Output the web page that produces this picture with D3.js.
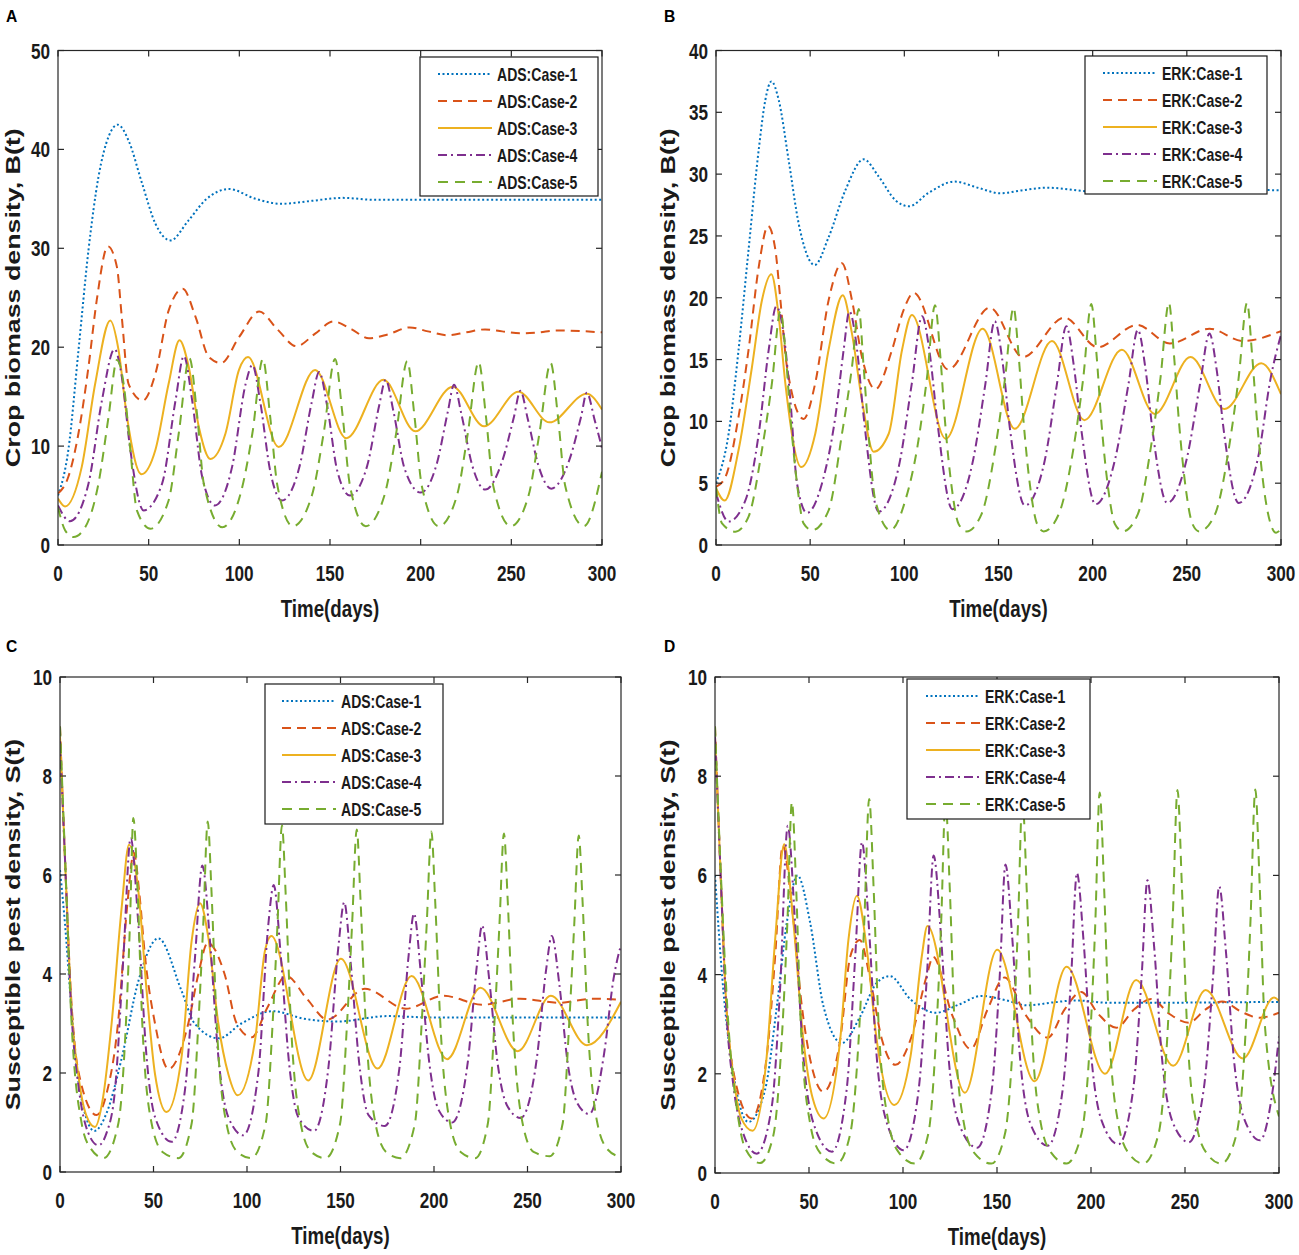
<!DOCTYPE html>
<html>
<head>
<meta charset="utf-8">
<title>Crop biomass and susceptible pest density</title>
<script src="https://d3js.org/d3.v7.min.js"></script>
<style>
  body { margin: 0; background: #fff; }
  text { font-family: "Liberation Sans", Arial, sans-serif; font-weight: bold; fill: #1a1a1a; }
  .tick-label { font-size: 22px; }
  .x-title { font-size: 24px; }
  .y-title { font-size: 26.8px; }
  .legend-text { font-size: 18px; }
  .panel-letter { font-size: 17px; fill: #000; }
</style>
</head>
<body>
<svg width="1299" height="1255"></svg>
<script>
// ---- data: [time (days), value] ----
var caseNames = ["Case-1", "Case-2", "Case-3", "Case-4", "Case-5"];
var xTicks = [0, 50, 100, 150, 200, 250, 300];
var yTicksA = [0, 10, 20, 30, 40, 50];
var yTicksB = [0, 5, 10, 15, 20, 25, 30, 35, 40];
var yTicksS = [0, 2, 4, 6, 8, 10];

// Panel A: ADS, crop biomass B(t)
var adsB1 = [[0,5],[5.7,9.6],[11.3,19.7],[16.8,29.8],[22.3,37.2],[27.9,41.3],[33,42.5],[38.9,40.9],[46.3,36.6],[53.7,32.5],[62,30.8],[71.9,32.8],[81.4,34.9],[94.3,36],[109,35],[123,34.5],[140,34.8],[157,35.1],[175,34.9],[200,34.9],[300,34.9]];
var adsB2 = [[0,5.2],[5.7,6.9],[11.3,11.3],[16.8,18],[21.4,24.8],[27.5,30.2],[32.5,28.1],[35.2,23],[38.9,16.3],[46.7,14.6],[53.7,17.3],[61,23.7],[68.8,25.9],[75.8,23.1],[83.2,19],[90,18.4],[99.8,21],[111,23.6],[121,21.8],[131.5,20.1],[142,21.4],[152,22.6],[162,21.8],[171.5,20.9],[182,21.3],[194,22],[204,21.6],[215,21.2],[225,21.5],[235.5,21.8],[245,21.6],[255,21.4],[265,21.5],[275,21.7],[300,21.5]];
var adsB3 = [[0,4.7],[3.9,3.9],[13.1,7.9],[20.5,16.3],[28.8,22.7],[33.4,19.7],[38,13],[46,7.15],[53.7,9.6],[61,16.3],[67,20.7],[72.1,18],[77.7,11.9],[84.1,8.7],[92.4,11.3],[99.8,17.7],[104.8,19],[121.7,9.9],[141.8,17.7],[159,10.8],[179.5,16.7],[197,11.5],[217.7,16],[235,12],[253.9,15.5],[271,12.4],[291.6,15.3],[300,13.7]];
var adsB4 = [[0,4.0],[6.6,2.4],[16.8,6.2],[24.2,14.6],[31.2,19.8],[35.2,17],[39.9,9.6],[47.2,3.5],[57.4,6.2],[64.8,14.6],[69.4,19.1],[74,14.6],[79.5,6.9],[86.5,4.0],[96,7.9],[103.5,16.3],[107.2,18.2],[111.5,14.5],[117,7.5],[123.5,4.5],[133,7.8],[140,14.5],[144,17.5],[148.5,14],[154,7.5],[161,5],[170.5,8],[177,14],[180.7,16.7],[185,13.5],[191,7.8],[200,5.3],[209,8.3],[215,13.5],[218.4,16.2],[222.5,13.2],[228.5,8],[235.6,5.6],[245,8.5],[251.5,13],[255,15.6],[259,12.8],[265,8],[272,5.7],[282,8.6],[288.5,13],[291.6,15.4],[296,12.6],[300,9.8]];
var adsB5 = [[0,3.8],[3.9,1.5],[8.5,0.8],[15,1.8],[22.3,6.2],[27.9,13],[32.5,18.7],[36.2,16.3],[39.9,9.6],[43.5,3.5],[51,1.65],[61,4.5],[66.6,11.3],[72.5,18.9],[76.8,13],[80.4,6.2],[90.6,1.8],[100.7,5.2],[107.2,11.3],[113,18.8],[117,13],[121,6],[129.5,1.9],[140,5],[146.5,11.3],[152.8,18.8],[157,13],[161,6],[169.7,1.9],[180,5],[186.5,11.3],[192.6,18.6],[196.6,13],[200.6,6],[210,1.9],[220,5],[226,11.3],[232,18.5],[236,13],[240,6],[249.7,1.9],[259.5,5],[265.5,11.3],[271.7,18.4],[275.7,13],[279.7,6],[290,1.9],[300,7.4]];

// Panel B: ERK, crop biomass B(t)
var erkB1 = [[0,5],[6.7,9],[12,15.8],[17.3,23.9],[22.7,32],[26.2,36],[29.4,37.5],[33.3,36],[38.6,31.1],[43.9,26],[52.4,22.65],[59.8,24.9],[68.7,28.7],[78.4,31.2],[86.4,29.8],[95.2,27.9],[102.4,27.4],[113,28.5],[126.6,29.4],[139,28.9],[151,28.45],[163,28.7],[176,28.9],[200,28.6],[230,28.75],[300,28.7]];
var erkB2 = [[0,4.7],[5,5.5],[12,10.4],[17.3,15.8],[22.7,22.5],[27.6,25.8],[31.5,23.9],[34.2,19.8],[37.7,14.4],[46.5,10.2],[52.7,13.1],[59.8,19.8],[66.9,22.8],[72.2,19.8],[77.5,15.2],[84.6,12.6],[93.5,15.8],[99.6,19],[105,20.4],[123.3,14.2],[145.4,19.2],[163,15.2],[185,18.4],[202.6,16],[223.6,17.8],[241,16.3],[262,17.5],[279.7,16.5],[300,17.3]];
var erkB3 = [[0,4.6],[4.6,3.6],[12,7.7],[19.1,14.4],[24.4,19.8],[29.4,21.9],[33.3,18.5],[36.8,13.1],[45.3,6.3],[52.7,9],[59.8,15.8],[67.3,20.2],[72.2,17.1],[77.5,11.7],[83.7,7.55],[91.7,9],[98.8,15.8],[104,18.6],[122,8.6],[141.6,17.5],[158.6,9.4],[178.4,16.5],[195.6,10.1],[215.5,15.8],[233,10.6],[252,15.2],[270,11],[289.5,14.7],[300,12.2]];
var erkB4 = [[0,4.2],[6.7,1.9],[15.6,3.6],[22.7,9],[28,15.8],[32,19.3],[35.9,17.1],[39.5,11.7],[43,5],[48.3,2.6],[56.3,5],[63.4,10.4],[67.8,15.8],[70.8,18.9],[74.9,15.8],[78.4,10.4],[86.4,2.7],[97,6.3],[104,13.1],[109.4,18.5],[113.5,15.5],[117.5,10],[125.5,2.9],[136,6.5],[143,13],[148,18.1],[152,15],[156,9.5],[164,3.2],[174.5,6.8],[181,13],[186,17.7],[190,14.5],[194,9.3],[201.5,3.3],[212,7],[219,13],[224,17.4],[228,14.3],[232,9],[239.6,3.4],[250,7],[257,13],[262,17.1],[266,14],[270,8.8],[277.5,3.4],[288,7.2],[294.5,13.5],[300,17]];
var erkB5 = [[0,4.7],[3.2,1.75],[10.3,1.08],[17.3,2.3],[24.4,7.7],[29.7,13.1],[34.2,18.9],[36.8,15.8],[39.5,10.4],[43,5],[46.5,1.75],[51,1.2],[59.8,2.8],[66.9,9],[72.2,14.4],[75.8,19.1],[78.4,14.4],[81,9],[84.6,3.6],[92.6,1.2],[100.5,3.6],[107,8],[112,13.5],[116.3,19.4],[119,15.5],[121.6,10],[125.3,4.5],[128.8,1.7],[133,1.1],[141,2.5],[148.5,8],[153.5,13.5],[158,19.2],[160.6,15.5],[163.3,10],[167,4.5],[170.5,1.7],[174,1.1],[182,2.5],[190,8],[195,13.5],[199.3,19.5],[202,15.5],[204.6,10],[208.3,4.5],[211.8,1.7],[216,1.1],[224,2.5],[231,8],[236,13.5],[240.5,19.6],[243.1,15.5],[245.8,10],[249.5,4.5],[253,1.7],[256.6,1.1],[265,2.5],[272.5,8],[277.5,13.5],[282,19.6],[284.6,15.5],[287.3,10],[291,4.5],[294.5,1.7],[297.4,1.0],[300,1.3]];

// Panel C: ADS, susceptible pest S(t)
var adsS1 = [[0,6.1],[2.7,5.0],[5.3,3.7],[10,1.8],[18.4,0.83],[25,1.2],[33,2.3],[42,3.87],[52.6,4.72],[65,3.66],[72,3.0],[85,2.7],[97,3.0],[113.8,3.25],[130,3.1],[148.7,3.04],[175,3.15],[200,3.12],[300,3.12]];
var adsS2 = [[0,9],[3,6],[6,3.5],[10,2],[19.6,1.15],[25,1.6],[31,3.0],[36,5.4],[39.5,6.45],[42.5,5.6],[45.5,4.34],[50.8,3.0],[58,2.08],[68.6,3.0],[74,4.0],[79,4.63],[88,4.0],[94.5,3.0],[102.5,2.72],[111,3.33],[121,3.96],[132,3.5],[143,3.08],[163,3.7],[185,3.3],[205,3.56],[226,3.38],[246,3.5],[267,3.42],[285,3.5],[300,3.48]];
var adsS3 = [[0,8.8],[2.7,6.3],[6,3.4],[10,1.9],[14,1.15],[18.7,0.91],[23,1.5],[27.6,3.0],[33,5.35],[36.9,6.61],[41.9,5.68],[46.3,3.67],[50.8,1.98],[57,1.21],[65,2.32],[70.4,4.67],[74.9,5.43],[79.3,4.74],[84.7,2.99],[90,1.98],[95,1.55],[104.3,2.66],[109.6,4.47],[113,4.77],[132.7,1.85],[150.2,4.31],[169.8,2.09],[188,3.96],[207,2.28],[224.8,3.72],[244.8,2.44],[262.5,3.56],[281.8,2.56],[300,3.44]];
var adsS4 = [[0,8.7],[2.7,6.3],[6,3.3],[10,1.7],[15,0.8],[20.5,0.54],[25,0.8],[29.4,1.65],[33.9,4.34],[37.8,6.75],[41.9,5.0],[46.3,2.32],[50.8,1.11],[59.7,0.61],[66.8,1.65],[72.2,4.34],[76.1,6.19],[80.2,4.67],[84.7,2.32],[90,1.11],[98,0.74],[106,1.98],[111.4,5.0],[114.3,5.8],[118,4.4],[122.5,2.2],[127.5,1.1],[135.8,0.83],[143.5,2.1],[149,4.6],[152,5.45],[155.5,4.2],[160,2.2],[165,1.15],[173.7,0.93],[181.5,2.1],[186.5,4.4],[189.3,5.22],[193,4.0],[197.5,2.2],[202.5,1.25],[209.7,1.0],[218,2.2],[223,4.2],[225.7,4.98],[229.5,3.9],[234,2.2],[239,1.35],[246.3,1.09],[255,2.3],[260,4.1],[263,4.77],[267,3.8],[271.5,2.2],[276.5,1.4],[283,1.17],[291,2.4],[296,3.9],[300,4.59]];
var adsS5 = [[0,9],[2.7,6.36],[6.2,3.0],[11.6,0.98],[16,0.5],[23.3,0.28],[31.2,0.98],[34.8,2.66],[37.4,5.0],[39.2,7.15],[41.5,5.68],[44,3.0],[49,0.98],[55,0.4],[63.3,0.28],[70.4,0.98],[74,3.0],[76.6,5.0],[79,7.08],[81,5.68],[83.8,3.0],[89,0.98],[95,0.4],[102.3,0.28],[110,0.98],[113.7,3.0],[116.3,5.0],[118.7,7.0],[120.7,5.6],[123.5,3.0],[128.7,0.98],[134.5,0.4],[142,0.28],[149.8,0.98],[153.5,3.0],[156.2,5.0],[158.7,6.92],[160.7,5.5],[163.5,3.0],[168.7,0.98],[174.5,0.4],[182,0.28],[189.8,0.98],[193.4,3.0],[196.1,5.0],[198.6,6.88],[200.6,5.5],[203.4,3.0],[208.6,0.98],[214.4,0.4],[222,0.28],[228.8,0.98],[232.3,3.0],[235,5.0],[237.4,6.84],[239.4,5.5],[242.2,3.0],[247.4,0.98],[253.5,0.4],[261.8,0.32],[268.8,0.98],[272.3,3.0],[275,5.0],[277.4,6.8],[279.4,5.5],[282.2,3.0],[287.4,0.98],[293,0.45],[300,0.3]];

// Panel D: ERK, susceptible pest S(t)
var erkS1 = [[0,6.0],[4.4,3.7],[9.8,2.0],[17.8,1.03],[26.6,1.67],[32.9,3.36],[38.2,5.05],[43.9,6.0],[50.6,5.05],[57.7,3.36],[67.5,2.62],[77.3,3.16],[86,3.83],[93,3.97],[104,3.5],[117.4,3.23],[130,3.4],[141.7,3.57],[155,3.48],[166,3.38],[180,3.44],[192,3.48],[210,3.43],[300,3.45]];
var erkS2 = [[0,9],[2.7,6.3],[6,3.4],[10,2.0],[19.5,1.1],[27.5,2.35],[32,4.37],[36,6.6],[40.9,5.38],[46.2,3.36],[52.4,2.01],[57.7,1.64],[66.6,2.69],[72,4.37],[77,4.7],[82.6,3.9],[88.8,2.69],[96,2.18],[104,2.69],[112.8,4.0],[116,4.36],[126,3.2],[136,2.5],[145,3.3],[154,3.94],[165,3.2],[177,2.73],[186,3.3],[194.7,3.65],[204,3.2],[213.5,2.93],[223,3.3],[232,3.51],[242,3.2],[252,3.03],[261,3.3],[269.8,3.46],[280,3.25],[289.6,3.13],[300,3.23]];
var erkS3 = [[0,8.8],[2.7,6.3],[6,3.4],[10,1.9],[14,1.1],[20,0.85],[27.5,2.35],[32,4.71],[36.8,6.63],[41.7,5.05],[47,2.69],[52,1.5],[57.7,1.1],[66.6,2.69],[71,4.71],[75.5,5.59],[80.8,4.5],[86,2.69],[95.4,1.37],[104,2.35],[110,4.37],[113,4.98],[132.9,1.62],[150.1,4.5],[170,1.85],[187,4.16],[207.5,2.0],[224,3.89],[243.7,2.16],[261,3.69],[280.8,2.31],[297.4,3.54],[300,3.47]];
var erkS4 = [[0,8.8],[2.7,6.3],[6,3.3],[10,1.7],[15,0.8],[22.2,0.39],[30.2,1.34],[34.6,3.7],[38.7,7.0],[42.6,5.05],[47,2.35],[52.4,1.0],[62.2,0.43],[70,1.67],[74.6,4.37],[78.2,6.67],[81.7,5.05],[86,2.35],[91.5,1.0],[100.4,0.46],[108.3,1.67],[112.8,4.03],[116.3,6.4],[120,4.9],[124.3,2.3],[129.7,1.0],[139.5,0.51],[147.2,1.67],[151.5,4.0],[154.5,6.22],[158,4.8],[162.3,2.3],[167.7,1.0],[177,0.55],[185,1.7],[189.5,4.0],[192.5,6.05],[196,4.7],[200.3,2.3],[205.7,1.05],[214.6,0.58],[222.5,1.7],[227,4.0],[230,5.9],[233.5,4.6],[237.8,2.3],[243.2,1.05],[252,0.62],[260,1.7],[265,4.0],[268.2,5.78],[271.7,4.5],[276,2.3],[281.4,1.1],[290,0.66],[296,1.5],[300,2.75]];
var erkS5 = [[0,9],[2.7,6.4],[7.1,3.0],[11.5,1.34],[16,0.5],[24,0.2],[31,0.75],[35.5,2.69],[38.5,5.05],[40.9,7.48],[43.2,5.72],[45.6,3.02],[50.6,1.0],[56,0.4],[64.8,0.19],[72,0.8],[76.4,2.69],[79.4,5.05],[82,7.54],[84.4,5.72],[87,3.02],[92.4,1.0],[98,0.4],[106.4,0.19],[113.5,0.8],[117.5,2.69],[120.3,5.05],[122.6,7.5],[124.9,5.72],[127.4,3.02],[132.4,1.0],[138,0.4],[147,0.19],[154.3,0.8],[158.5,2.69],[161.2,5.05],[163.5,7.55],[165.8,5.72],[168.3,3.02],[173.3,1.0],[179,0.4],[187,0.19],[195,0.8],[199.5,2.69],[202.3,5.05],[204.6,7.67],[207,5.72],[209.5,3.02],[214.5,1.0],[220,0.4],[227.8,0.19],[236,0.8],[240.5,2.69],[243.4,5.05],[246,7.72],[248.4,5.72],[251,3.02],[256,1.0],[261.5,0.4],[269.3,0.19],[277.5,0.8],[282,2.69],[284.8,5.05],[287.4,7.73],[289.8,5.72],[292.4,3.02],[300,1.14]];

// ---- styling ----
var colors = ["#0072BD", "#D95319", "#EDB120", "#7E2F8E", "#77AC30"];
var dashes = ["2,2.5", "9,6", null, "9,4,2,4", "10,7"];
var squeeze = 0.78;   // the source figure is horizontally compressed

var panels = [
  { letter: "A", method: "ADS", series: [adsB1, adsB2, adsB3, adsB4, adsB5], yMax: 50, yTicks: yTicksA,
    ytitle: "Crop biomass density, B(t)", box: [58, 50.5, 602, 545], legend: [420, 57, 178, 139], lx: 18 },
  { letter: "B", method: "ERK", series: [erkB1, erkB2, erkB3, erkB4, erkB5], yMax: 40, yTicks: yTicksB,
    ytitle: "Crop biomass density, B(t)", box: [716, 50.5, 1281, 545], legend: [1085, 56, 182, 138], lx: 18 },
  { letter: "C", method: "ADS", series: [adsS1, adsS2, adsS3, adsS4, adsS5], yMax: 10, yTicks: yTicksS,
    ytitle: "Susceptible pest density, S(t)", box: [60, 677, 621, 1172], legend: [265, 684, 178, 140], lx: 17 },
  { letter: "D", method: "ERK", series: [erkS1, erkS2, erkS3, erkS4, erkS5], yMax: 10, yTicks: yTicksS,
    ytitle: "Susceptible pest density, S(t)", box: [715, 677, 1279, 1173], legend: [907, 679, 183, 140], lx: 19 }
];

var svg = d3.select("svg");
var axisColor = "#262626";

function label(parent, x, y, str, cls, anchor, vertical, sx) {
  return parent.append("text")
    .attr("class", cls)
    .attr("transform", "translate(" + x + "," + y + ") scale(" + (sx || squeeze) + ",1)" + (vertical ? " rotate(-90)" : ""))
    .attr("text-anchor", anchor || "start")
    .text(str);
}

panels.forEach(function(p, pi) {
  var x0 = p.box[0], y0 = p.box[1], x1 = p.box[2], y1 = p.box[3];
  var x = d3.scaleLinear().domain([0, 300]).range([x0, x1]);
  var y = d3.scaleLinear().domain([0, p.yMax]).range([y1, y0]);
  var g = svg.append("g");
  var left = p.letter === "A" || p.letter === "C";

  g.append("clipPath").attr("id", "clip" + pi)
    .append("rect").attr("x", x0).attr("y", y0).attr("width", x1 - x0).attr("height", y1 - y0);

  var line = d3.line()
    .x(function(d) { return x(d[0]); })
    .y(function(d) { return y(d[1]); })
    .curve(d3.curveMonotoneX);

  var lines = g.append("g").attr("clip-path", "url(#clip" + pi + ")");
  p.series.forEach(function(s, i) {
    lines.append("path")
      .attr("d", line(s))
      .attr("fill", "none")
      .attr("stroke", colors[i])
      .attr("stroke-width", 2)
      .attr("stroke-dasharray", dashes[i]);
  });

  // box with inward ticks on all sides
  g.append("rect").attr("x", x0).attr("y", y0).attr("width", x1 - x0).attr("height", y1 - y0)
    .attr("fill", "none").attr("stroke", axisColor).attr("stroke-width", 1.2);

  xTicks.forEach(function(t) {
    g.append("line").attr("x1", x(t)).attr("x2", x(t)).attr("y1", y1).attr("y2", y1 - 6)
      .attr("stroke", axisColor).attr("stroke-width", 1.2);
    g.append("line").attr("x1", x(t)).attr("x2", x(t)).attr("y1", y0).attr("y2", y0 + 6)
      .attr("stroke", axisColor).attr("stroke-width", 1.2);
    label(g, x(t), y1 + 36, t, "tick-label", "middle");
  });
  p.yTicks.forEach(function(v) {
    g.append("line").attr("x1", x0).attr("x2", x0 + 6).attr("y1", y(v)).attr("y2", y(v))
      .attr("stroke", axisColor).attr("stroke-width", 1.2);
    g.append("line").attr("x1", x1).attr("x2", x1 - 6).attr("y1", y(v)).attr("y2", y(v))
      .attr("stroke", axisColor).attr("stroke-width", 1.2);
    label(g, x0 - 8, y(v) + 8, v, "tick-label", "end");
  });

  // axis titles
  label(g, (x0 + x1) / 2, y1 + 72, "Time(days)", "x-title", "middle");
  label(g, left ? 19.5 : 675, (y0 + y1) / 2, p.ytitle, "y-title", "middle", true, 0.75);

  // panel letter
  label(g, left ? 6 : 664, p.letter === "A" || p.letter === "B" ? 22 : 652, p.letter, "panel-letter", "start", false, 0.92);

  // legend
  var L = p.legend;
  var lg = g.append("g").attr("transform", "translate(" + L[0] + "," + L[1] + ")");
  lg.append("rect").attr("width", L[2]).attr("height", L[3])
    .attr("fill", "#fff").attr("stroke", "#1a1a1a").attr("stroke-width", 1.2);
  caseNames.forEach(function(n, i) {
    var ry = 17 + i * 27;
    lg.append("line").attr("x1", p.lx).attr("x2", p.lx + 54).attr("y1", ry).attr("y2", ry)
      .attr("stroke", colors[i]).attr("stroke-width", 2).attr("stroke-dasharray", dashes[i]);
    label(lg, p.lx + 59, ry + 7, p.method + ":" + n, "legend-text", "start");
  });
});
</script>
</body>
</html>
